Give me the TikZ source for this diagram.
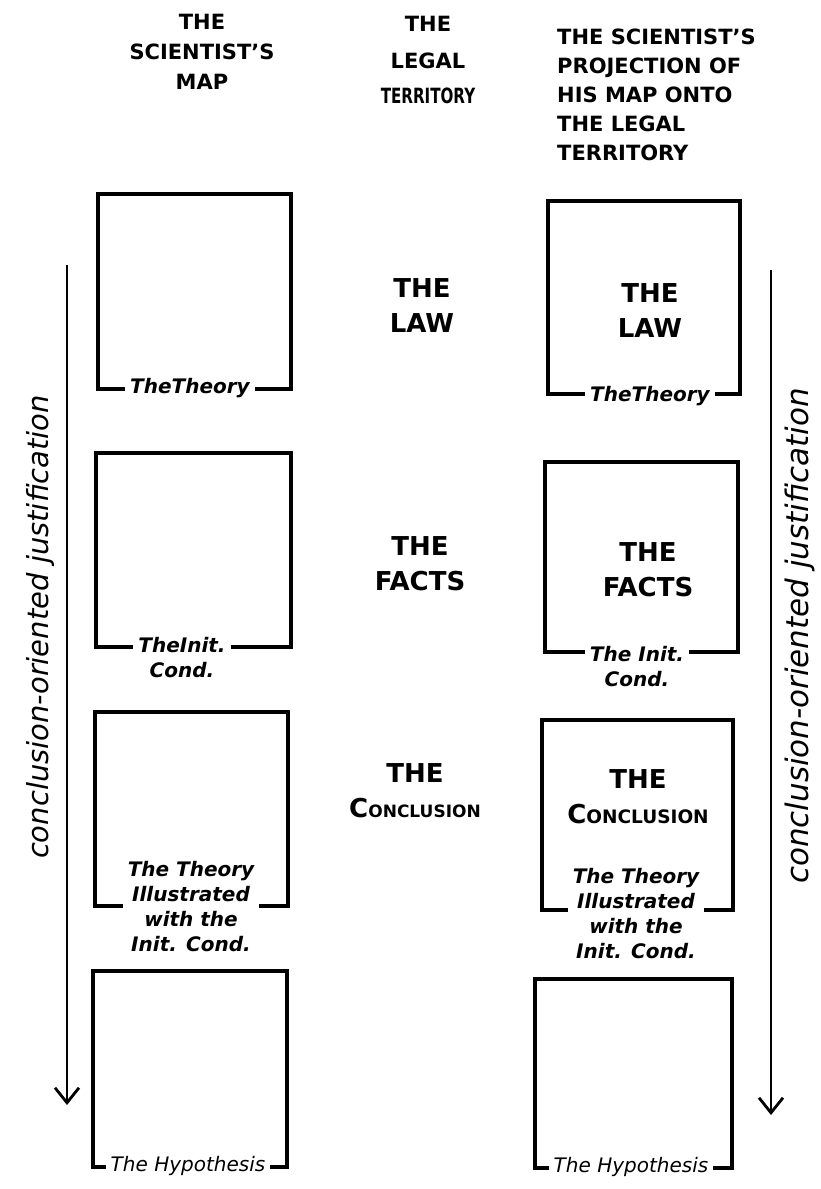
\documentclass[tikz,border=0pt]{standalone}
\usepackage{fontspec}
\setmainfont{DejaVu Sans}
\usetikzlibrary{arrows.meta}
\newcommand\smc[3]{#1{\fontsize{#2}{#2}\selectfont #3}}
\begin{document}
\begin{tikzpicture}[x=1pt,y=-1pt,
  mapbox/.style={draw, line width=3.4pt, rectangle, inner sep=0pt},
  caps/.style={font=\bfseries\fontsize{26}{35}\selectfont, align=center, inner sep=0pt},
  hdr/.style={font=\bfseries\fontsize{21}{30}\selectfont, inner sep=0pt},
  lbl/.style={font=\bfseries\itshape\fontsize{20}{25}\selectfont, fill=white, align=center, inner xsep=5pt, inner ysep=1pt},
  flow/.style={line width=2.8pt, -{Straight Barb[length=15pt,width=24pt,line width=2.8pt]}},
  side/.style={font=\itshape\fontsize{29}{30}\selectfont, rotate=90, inner sep=0pt}
]
\fill[white] (0,0) rectangle (821,1189);
\useasboundingbox (0,0) rectangle (821,1189);

% headers
\node[hdr, align=center] (hl) at (202,52) {THE\\SCIENTIST'S\\MAP};
\node[hdr, align=center] (hm) at (428,60) {THE\\[7pt]LEGAL\\[5pt]\scalebox{0.72}[1]{TERRITORY}};
\node[hdr, align=left, anchor=west, font=\bfseries\fontsize{21}{29}\selectfont] (hr) at (557,95)
  {THE SCIENTIST'S\\PROJECTION OF\\HIS MAP ONTO\\THE LEGAL\\TERRITORY};

% left column boxes
\node[mapbox, minimum width=193, minimum height=195] (L1) at (194.5,291.5) {};
\node[mapbox, minimum width=195, minimum height=194] (L2) at (193.5,550) {};
\node[mapbox, minimum width=193, minimum height=194] (L3) at (191.5,809) {};
\node[mapbox, minimum width=194, minimum height=196] (L4) at (190,1069) {};

% right column boxes
\node[mapbox, minimum width=192, minimum height=193] (R1) at (644,297.5) {};
\node[mapbox, minimum width=193, minimum height=190] (R2) at (641.5,557) {};
\node[mapbox, minimum width=191, minimum height=190] (R3) at (637.5,815) {};
\node[mapbox, minimum width=197, minimum height=189] (R4) at (633.5,1073.5) {};

% labels at the bottom of the boxes
\node[lbl] (l1) at (190,388) {TheTheory};
\node[lbl] (l2) at (182,658) {TheInit.\\Cond.};
\node[lbl] (l3) at (191,907) {The Theory\\Illustrated\\with the\\Init. Cond.};
\node[lbl, font=\itshape\fontsize{20}{25}\selectfont] (l4) at (188,1166) {The Hypothesis};

\node[lbl] (r1) at (650,396) {TheTheory};
\node[lbl] (r2) at (637,667) {The Init.\\Cond.};
\node[lbl] (r3) at (636,914) {The Theory\\Illustrated\\with the\\Init. Cond.};
\node[lbl, font=\itshape\fontsize{20}{25}\selectfont] (r4) at (631,1167) {The Hypothesis};

% middle column
\node[caps] (m1) at (422,306) {THE\\LAW};
\node[caps] (m2) at (420,564) {THE\\FACTS};
\node[caps] (m3) at (415,791) {THE\\\smc{C}{17}{ONCLUSION}};

% texts inside the right boxes
\node[caps] (t1) at (650,311) {THE\\LAW};
\node[caps] (t2) at (648,570) {THE\\FACTS};
\node[caps] (t3) at (638,797) {THE\\\smc{C}{18.5}{ONCLUSION}};

% arrows
\coordinate (a1) at (67,265);
\coordinate (a2) at (67,1105);
\coordinate (b1) at (771,270);
\coordinate (b2) at (771,1115);
\draw[flow] (a1) -- (a2);
\draw[flow] (b1) -- (b2);

\node[side] (s1) at (40,627) {conclusion-oriented justification};
\node[side, font=\itshape\fontsize{31}{32}\selectfont] (s2) at (800,636) {conclusion-oriented justification};
\end{tikzpicture}
\end{document}
